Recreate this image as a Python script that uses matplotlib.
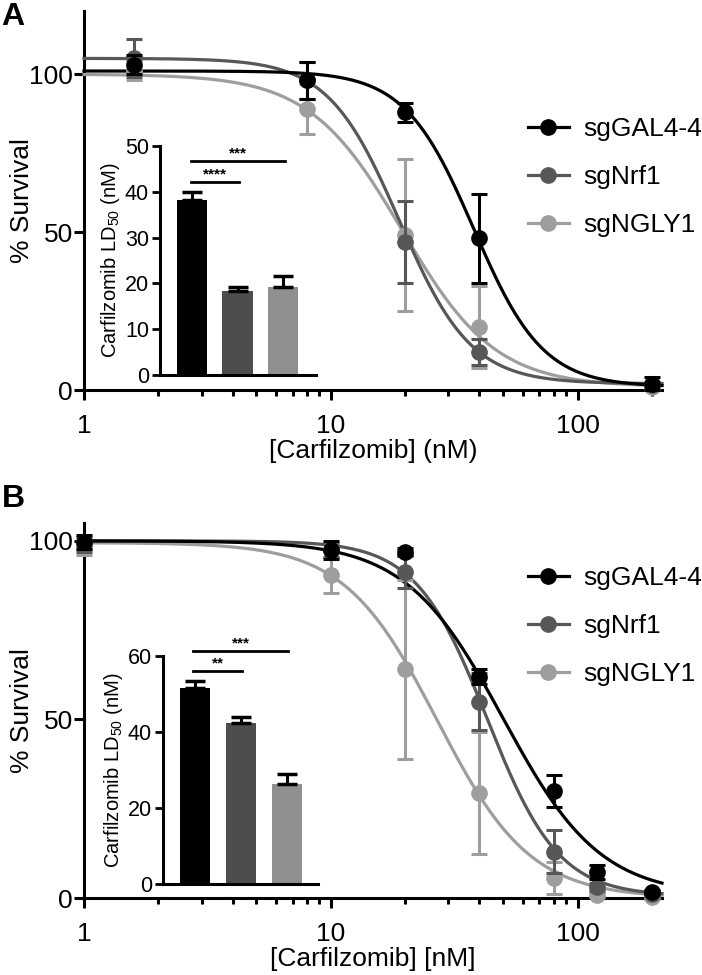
import numpy as np
import matplotlib
matplotlib.use("Agg")
import matplotlib.pyplot as plt
from matplotlib.ticker import FixedLocator, LogLocator, NullFormatter

plt.rcParams["font.family"] = ["Liberation Sans", "DejaVu Sans"]

# series and styling
labels = ["sgGAL4-4", "sgNrf1", "sgNGLY1"]
line_colors = ["#000000", "#575757", "#9e9e9e"]
bar_colors = ["#000000", "#4d4d4d", "#8f8f8f"]

# panel A: survival data (mean, sd)
conc_a = [1.6, 8, 20, 40, 200]
mean_a = [
    [103, 98, 88, 48, 2],
    [105, 98, 47, 12, 1.5],
    [101, 89, 49, 20, 1],
]
sd_a = [
    [3, 6, 3, 14, 2],
    [6, 6, 13, 4, 1],
    [3, 8, 24, 13, 1],
]
# 4PL fit parameters: top, bottom, LD50, hill
fit_a = [
    [101, 1, 38, 3.1],
    [105, 2, 19, 3.0],
    [100, 1, 19.5, 2.3],
]
ld50_a = [38.3, 18.4, 19.3]
ld50_err_a = [1.7, 0.9, 2.3]
sig_a = [("****", 0, 1, 42.2), ("***", 0, 2, 46.7)]

# panel B
conc_b = [1, 10, 20, 40, 80, 120, 200]
mean_b = [
    [99.7, 97.5, 97, 62, 30, 7.3, 1.7],
    [99, 97.5, 91.3, 55, 13, 3.1, 1],
    [98, 90.5, 64, 29.4, 5.6, 0.8, 0.3],
]
sd_b = [
    [2, 2.5, 1, 2, 4.5, 2, 0.5],
    [2, 2, 4.5, 8, 6, 1, 0.5],
    [2, 5, 25, 17, 4.5, 0.5, 0.5],
]
fit_b = [
    [100, 0.5, 50, 2.2],
    [100, 0.5, 43, 3.0],
    [99.5, 0, 27, 2.3],
]
ld50_b = [51.6, 42.4, 26.3]
ld50_err_b = [1.8, 1.5, 2.6]
sig_b = [("**", 0, 1, 56.0), ("***", 0, 2, 61.3)]

FS = 19


def logistic(x, top, bottom, ld50, hill):
    return bottom + (top - bottom) / (1 + (x / ld50) ** hill)


def draw_main(ax, conc, means, sds, fits, ymax, xlabel, legend_y):
    xs = np.logspace(0, np.log10(220), 400)
    for i in reversed(range(3)):
        ax.plot(xs, logistic(xs, *fits[i]), color=line_colors[i], lw=2.3,
                zorder=3 + (2 - i) * 0.1, clip_on=False)
        ax.errorbar(conc, means[i], yerr=sds[i], fmt="o", color=line_colors[i], ms=11,
                    elinewidth=2.2, capsize=6, capthick=2.2, zorder=5 + (2 - i), clip_on=False)
    ax.set_xscale("log")
    ax.set_xlim(1, 220)
    ax.set_ylim(0, ymax)
    ax.xaxis.set_major_locator(FixedLocator([1, 10, 100]))
    ax.set_xticklabels(["1", "10", "100"])
    ax.xaxis.set_minor_locator(LogLocator(base=10, subs=np.arange(2, 10)))
    ax.xaxis.set_minor_formatter(NullFormatter())
    ax.set_yticks([0, 50, 100])
    ax.tick_params(axis="both", which="major", length=7, width=2.2, labelsize=FS)
    ax.tick_params(axis="x", which="major", pad=10)
    ax.tick_params(axis="y", which="major", pad=1)
    ax.tick_params(axis="x", which="minor", length=4.5, width=2.2)
    for side in ["top", "right"]:
        ax.spines[side].set_visible(False)
    for side in ["left", "bottom"]:
        ax.spines[side].set_linewidth(2.2)
    ax.set_ylabel("% Survival", fontsize=FS)
    ax.yaxis.set_label_coords((34 - 84) / 578, 0.5)
    ax.set_xlabel(xlabel, fontsize=FS, labelpad=1)

    handles = [plt.Line2D([], [], color=line_colors[i], lw=2.3, marker="o", ms=11) for i in range(3)]
    ax.legend(handles, labels, loc="center left", bbox_to_anchor=(528 / 702, legend_y),
              bbox_transform=ax.figure.transFigure, frameon=False, fontsize=FS,
              borderpad=0, borderaxespad=0, handlelength=1.55, handletextpad=0.55,
              labelspacing=0.9)


def draw_inset(ax, values, errs, sigs, ymax, ticks, xlim):
    pos = np.arange(3)
    ax.bar(pos, values, width=0.66, color=bar_colors, zorder=2)
    ax.errorbar(pos, values, yerr=[np.zeros(3), errs], fmt="none", ecolor="black",
                elinewidth=2.2, capsize=7, capthick=2.5, zorder=3)
    for stars, a, b, y in sigs:
        ax.plot([a - 0.03, b + 0.03], [y, y], color="black", lw=2, clip_on=False)
        ax.text((a + b) / 2, y + ymax * 0.002, stars, ha="center", va="bottom", fontsize=11,
                fontweight="bold", clip_on=False)
    ax.set_xlim(*xlim)
    ax.set_ylim(0, ymax)
    ax.set_yticks(ticks)
    ax.set_xticks([])
    ax.tick_params(axis="y", length=6, width=2, labelsize=15.5, pad=2)
    for side in ["top", "right"]:
        ax.spines[side].set_visible(False)
    for side in ["left", "bottom"]:
        ax.spines[side].set_linewidth(2.2)
    ax.set_ylabel(r"Carfilzomib LD$_{\mathregular{50}}$ (nM)", fontsize=14.5, labelpad=2)
    ax.patch.set_alpha(0)


fig = plt.figure(figsize=(7.02, 9.75), dpi=100)
W, H = 702, 975

ax_a = fig.add_axes([84 / W, 1 - 390 / H, 578 / W, 379 / H])
draw_main(ax_a, conc_a, mean_a, sd_a, fit_a, 120, "[Carfilzomib] (nM)", 1 - 177 / H)
ins_a = fig.add_axes([160 / W, 1 - 375 / H, 156 / W, 229 / H])
draw_inset(ins_a, ld50_a, ld50_err_a, sig_a, 50, [0, 10, 20, 30, 40, 50], (-0.7, 2.72))

ax_b = fig.add_axes([84 / W, 1 - 898 / H, 578 / W, 375 / H])
draw_main(ax_b, conc_b, mean_b, sd_b, fit_b, 105, "[Carfilzomib] [nM]", 1 - 626 / H)
ins_b = fig.add_axes([163 / W, 1 - 884 / H, 155 / W, 228 / H])
draw_inset(ins_b, ld50_b, ld50_err_b, sig_b, 60, [0, 20, 40, 60], (-0.69, 2.67))

fig.text(0.002, 0.998, "A", fontsize=23, fontweight="bold", va="top", ha="left")
fig.text(0.002, 1 - 484 / H, "B", fontsize=23, fontweight="bold", va="top", ha="left")

fig.savefig("out.png", dpi=100)
